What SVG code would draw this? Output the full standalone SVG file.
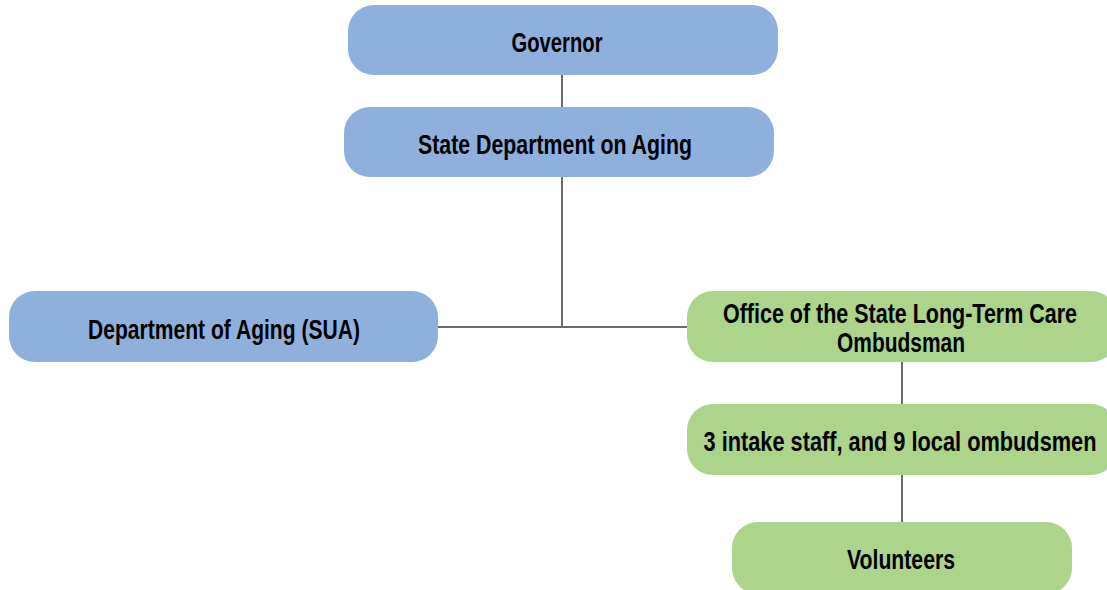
<svg xmlns="http://www.w3.org/2000/svg" width="1107" height="590" viewBox="0 0 1107 590">
<style>
.blue{fill:#8fb0dd}
.green{fill:#acd48a}
.t{font-family:"Liberation Sans",Arial,sans-serif;font-weight:bold;font-size:28.5px;fill:#000;text-anchor:middle}
.c{stroke:#6b6b6b;stroke-width:2;fill:none}
</style>
<rect width="1107" height="590" fill="#fff"/>
<g id="connectors">
<line class="c" x1="562" y1="75" x2="562" y2="107"/>
<line class="c" x1="562" y1="177" x2="562" y2="327"/>
<line class="c" x1="438" y1="327" x2="688" y2="327"/>
<line class="c" x1="902" y1="362" x2="902" y2="404"/>
<line class="c" x1="902" y1="475" x2="902" y2="522"/>
</g>
<g id="governor">
<rect class="blue" x="348" y="5" width="430" height="70" rx="26"/>
<text class="t" x="557" y="52" textLength="91" lengthAdjust="spacingAndGlyphs">Governor</text>
</g>
<g id="state-dept">
<rect class="blue" x="344" y="107" width="430" height="70" rx="26"/>
<text class="t" x="555" y="154" textLength="274" lengthAdjust="spacingAndGlyphs">State Department on Aging</text>
</g>
<g id="dept-aging">
<rect class="blue" x="9" y="291" width="429" height="71" rx="26"/>
<text class="t" x="224" y="339" textLength="272" lengthAdjust="spacingAndGlyphs">Department of Aging (SUA)</text>
</g>
<g id="office">
<rect class="green" x="687" y="291" width="430" height="71" rx="26"/>
<text class="t" x="900" y="323" textLength="354" lengthAdjust="spacingAndGlyphs">Office of the State Long-Term Care</text>
<text class="t" x="901" y="352" textLength="128" lengthAdjust="spacingAndGlyphs">Ombudsman</text>
</g>
<g id="intake">
<rect class="green" x="687" y="404" width="430" height="71" rx="26"/>
<text class="t" x="900" y="451" textLength="393" lengthAdjust="spacingAndGlyphs">3 intake staff, and 9 local ombudsmen</text>
</g>
<g id="volunteers">
<rect class="green" x="732" y="522" width="340" height="72" rx="26"/>
<text class="t" x="901" y="569" textLength="108" lengthAdjust="spacingAndGlyphs">Volunteers</text>
</g>
</svg>
